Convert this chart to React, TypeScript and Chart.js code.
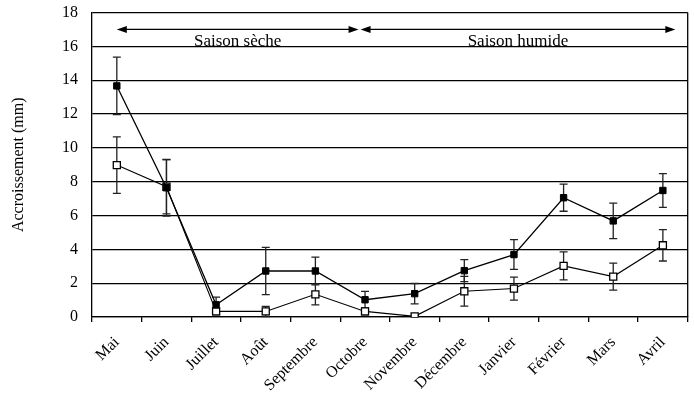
import React, { useEffect, useRef } from "react";
import { Chart, registerables } from "chart.js";

Chart.register(...registerables);

const months = ["Mai", "Juin", "Juillet", "Août", "Septembre", "Octobre", "Novembre", "Décembre", "Janvier", "Février", "Mars", "Avril"];
const filledValues = [13.66, 7.64, 0.72, 2.72, 2.72, 1.02, 1.38, 2.74, 3.69, 7.05, 5.68, 7.48];
const filledErrors = [1.7, 1.67, 0.45, 1.4, 0.82, 0.5, 0.6, 0.65, 0.88, 0.8, 1.05, 1.0];
const openValues = [8.98, 7.7, 0.33, 0.33, 1.34, 0.33, 0.04, 1.52, 1.68, 3.02, 2.39, 4.24];
const openErrors = [1.67, 1.6, 0.2, 0.3, 0.62, 0.2, 0.05, 0.88, 0.68, 0.83, 0.8, 0.93];
const yTicks = [0, 2, 4, 6, 8, 10, 12, 14, 16, 18];
const yTitle = "Accroissement (mm)";
const seasonLabels = ["Saison sèche", "Saison humide"];
const seasonFrom = [0, 4.91];
const seasonTo = [4.87, 11.25];
const arrowLevel = 17;
const textLevel = 16;

const FONT = "'Liberation Serif', 'Times New Roman', serif";

const errorBarPlugin = {
  id: "errorBars",
  beforeDatasetsDraw(chart: any) {
    const ctx = chart.ctx;
    const ys = chart.scales.y;
    const errs = [filledErrors, openErrors];
    const vals = [filledValues, openValues];
    ctx.save();
    ctx.strokeStyle = "#222";
    ctx.lineWidth = 1.3;
    for (let d = 0; d < 2; d++) {
      const meta = chart.getDatasetMeta(d);
      meta.data.forEach((pt: any, i: number) => {
        const x = pt.x;
        const top = ys.getPixelForValue(vals[d][i] + errs[d][i]);
        const bot = ys.getPixelForValue(Math.max(0, vals[d][i] - errs[d][i]));
        ctx.beginPath();
        ctx.moveTo(x, top);
        ctx.lineTo(x, bot);
        ctx.moveTo(x - 4, top);
        ctx.lineTo(x + 4, top);
        ctx.moveTo(x - 4, bot);
        ctx.lineTo(x + 4, bot);
        ctx.stroke();
      });
    }
    ctx.restore();
  },
};

const seasonPlugin = {
  id: "seasons",
  afterDraw(chart: any) {
    const ctx = chart.ctx;
    const xs = chart.scales.x;
    const ys = chart.scales.y;
    const p0 = xs.getPixelForTick(0);
    const step = xs.getPixelForTick(1) - p0;
    const px = (v: number) => p0 + v * step;
    const ay = ys.getPixelForValue(arrowLevel);
    const ty = ys.getPixelForValue(textLevel);
    ctx.save();
    ctx.strokeStyle = "#000";
    ctx.fillStyle = "#000";
    ctx.lineWidth = 1.3;
    const head = (x: number, dir: number) => {
      ctx.beginPath();
      ctx.moveTo(x, ay);
      ctx.lineTo(x + dir * 10, ay - 3.5);
      ctx.lineTo(x + dir * 10, ay + 3.5);
      ctx.closePath();
      ctx.fill();
    };
    for (let s = 0; s < seasonLabels.length; s++) {
      const a = px(seasonFrom[s]);
      const b = px(seasonTo[s]);
      ctx.beginPath();
      ctx.moveTo(a + 5, ay);
      ctx.lineTo(b - 5, ay);
      ctx.stroke();
      head(a, 1);
      head(b, -1);
      ctx.font = `17px ${FONT}`;
      ctx.textAlign = "center";
      ctx.textBaseline = "alphabetic";
      ctx.fillText(seasonLabels[s], (a + b) / 2, ty - 0.5);
    }
    const ca = chart.chartArea;
    ctx.beginPath();
    ctx.moveTo(ca.right, ca.top);
    ctx.lineTo(ca.right, ca.bottom);
    ctx.stroke();
    ctx.restore();
  },
};

export default function App() {
  const ref = useRef<HTMLCanvasElement>(null);
  useEffect(() => {
    document.body.style.margin = "0";
    const chart = new Chart(ref.current as HTMLCanvasElement, {
      type: "line",
      data: {
        labels: months,
        datasets: [
          {
            data: filledValues,
            borderColor: "#000",
            borderWidth: 1.3,
            pointStyle: "rect",
            pointRadius: 4.5,
            pointBackgroundColor: "#000",
            pointBorderColor: "#000",
            pointBorderWidth: 1,
            order: 0,
          },
          {
            data: openValues,
            borderColor: "#000",
            borderWidth: 1.1,
            pointStyle: "rect",
            pointRadius: 5,
            pointBackgroundColor: "#fff",
            pointBorderColor: "#000",
            pointBorderWidth: 1.3,
            order: 1,
          },
        ],
      },
      options: {
        animation: false,
        responsive: false,
        layout: { padding: { left: 0, top: 12.5, right: 3, bottom: 0 } },
        plugins: { legend: { display: false }, tooltip: { enabled: false } },
        scales: {
          x: {
            type: "category",
            offset: true,
            grid: { offset: true, drawOnChartArea: false, drawTicks: true, tickLength: 5, color: "#000", lineWidth: 1.3 },
            border: { color: "#000", width: 1.3 },
            ticks: { maxRotation: 45, minRotation: 45, autoSkip: false, color: "#000", font: { family: FONT, size: 16 }, padding: 11 },
            afterFit: (s: any) => { s.height = 82; },
          },
          y: {
            min: 0,
            max: 18,
            afterBuildTicks: (s: any) => { s.ticks = yTicks.map((v) => ({ value: v })); },
            grid: { color: "#000", lineWidth: 1.3, drawTicks: false },
            border: { color: "#000", width: 1.3 },
            ticks: { color: "#000", font: { family: FONT, size: 16 }, padding: 14 },
            title: { display: true, text: yTitle, color: "#000", font: { family: FONT, size: 16 }, padding: { top: 9, bottom: 2 } },
            afterFit: (s: any) => { s.width = 92; s.paddingTop = 0; s.paddingBottom = 0; },
          },
        },
      } as any,
      plugins: [errorBarPlugin, seasonPlugin],
    });
    return () => chart.destroy();
  }, []);
  return (
    <div style={{ width: 694, height: 399, background: "#fff" }}>
      <canvas ref={ref} width={694} height={399} />
    </div>
  );
}
